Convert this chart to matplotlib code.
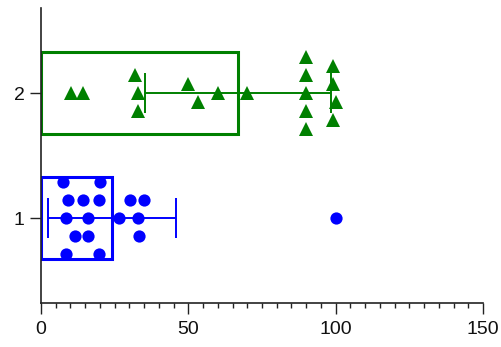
import numpy as np
import matplotlib
matplotlib.use("Agg")
import matplotlib.pyplot as plt
from matplotlib.ticker import MultipleLocator

# group positions on the y axis
groups = [1, 2]
group_colors = ["#0000ff", "#008000"]
group_markers = ["o", "^"]

# group 1 values (x) and the vertical scatter offset of each dot
g1_values = [7.6, 20.0,
             9.3, 14.1, 19.8, 30.2, 35.1,
             8.5, 16.1, 26.6, 33.0, 100.0,
             11.5, 16.1, 33.4,
             8.5, 19.8]
g1_offsets = [0.29, 0.29,
              0.145, 0.145, 0.145, 0.145, 0.145,
              0.0, 0.0, 0.0, 0.0, 0.0,
              -0.145, -0.145, -0.145,
              -0.29, -0.29]

# group 2 values and offsets
g2_values = [10.2, 14.4,
             31.9, 33.0, 33.0,
             50.0, 53.4, 60.2, 70.0,
             90.0, 90.0, 90.0, 90.0, 90.0,
             99.0, 99.0, 100.0, 99.0]
g2_offsets = [0.0, 0.0,
              0.145, 0.0, -0.145,
              0.07, -0.07, 0.0, 0.0,
              0.29, 0.145, 0.0, -0.145, -0.29,
              0.215, 0.07, -0.07, -0.215]

x_ticks = [0, 50, 100, 150]
y_ticks = [1, 2]
y_ticklabels = ["1", "2"]

plt.rcParams.update({
    "font.family": ["Liberation Sans", "DejaVu Sans"],
    "font.size": 14,
})

fig = plt.figure(figsize=(5.02, 3.47), dpi=100)
ax = fig.add_axes([41 / 502, 44 / 347, 442 / 502, 295 / 347])

data = [(g1_values, g1_offsets), (g2_values, g2_offsets)]
for ypos, (vals, offs), color, marker in zip(groups, data, group_colors, group_markers):
    vals = np.array(vals)
    mean = vals.mean()
    sd = vals.std(ddof=1)
    ax.barh(ypos, mean, height=0.65, fill=False, edgecolor=color,
            linewidth=2.2, zorder=2)
    ax.errorbar(mean, ypos, xerr=sd, color=color, linewidth=1.4,
                capsize=14.5, capthick=1.4, zorder=3)
    ms = 8.8 if marker == "o" else 10
    ax.plot(vals, ypos + np.array(offs), linestyle="none", marker=marker,
            markersize=ms, color=color, markeredgewidth=0, zorder=4)

ax.set_xlim(0, 150)
ax.set_ylim(0.32, 2.68)
ax.set_xticks(x_ticks)
ax.xaxis.set_minor_locator(MultipleLocator(5))
ax.set_yticks(y_ticks)
ax.set_yticklabels(y_ticklabels)

for side in ["top", "right"]:
    ax.spines[side].set_visible(False)
for side in ["left", "bottom"]:
    ax.spines[side].set_linewidth(1.2)
    ax.spines[side].set_color("#222222")

ax.tick_params(axis="both", which="major", length=7.7, width=1.0,
               color="#222222", labelcolor="#111111")
ax.tick_params(axis="x", which="major", pad=5.5)
ax.tick_params(axis="y", which="major", pad=4)
ax.tick_params(axis="x", which="minor", length=3.6, width=1.0, color="#222222")

fig.savefig("out.png", dpi=100)
